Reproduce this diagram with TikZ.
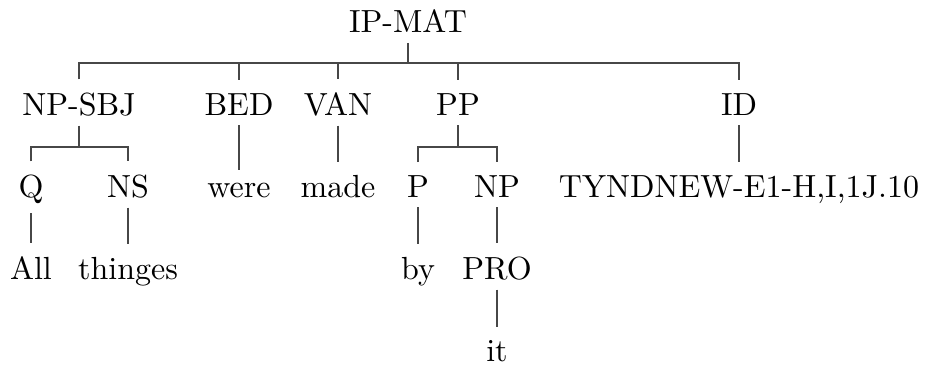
\documentclass[tikz,border=0pt]{standalone}
\usepackage{tikz}
\begin{document}
\begin{tikzpicture}[x=1pt,y=-1pt,
  lbl/.style={inner sep=0pt, outer sep=0pt, anchor=base, font=\fontsize{10}{12}\selectfont, scale=3.2, transform shape},
  edge/.style={draw=black!72, line width=1.5pt, line join=miter, line cap=butt}]
\useasboundingbox (0,0) rectangle (928,369);
% level 0
\node[lbl] (ipmat) at (408,33) {IP-MAT};
% level 1
\node[lbl] (npsbj) at (79,115) {NP-SBJ};
\node[lbl] (bed) at (239,115) {BED};
\node[lbl] (van) at (338,115) {VAN};
\node[lbl] (pp) at (458,115) {PP};
\node[lbl] (id) at (739,115) {ID};
% level 2
\node[lbl] (q) at (31,197) {Q};
\node[lbl] (ns) at (128,197) {NS};
\node[lbl] (were) at (239,197) {were};
\node[lbl] (made) at (338,197) {made};
\node[lbl] (p) at (418,197) {P};
\node[lbl] (np) at (497,197) {NP};
\node[lbl] (tynd) at (739,197) {TYNDNEW-E1-H,I,1J.10};
% level 3
\node[lbl] (all) at (31,279) {All};
\node[lbl] (thinges) at (128,279) {thinges};
\node[lbl] (by) at (418,279) {by};
\node[lbl] (pro) at (497,279) {PRO};
% level 4
\node[lbl] (it) at (497,361) {it};
% bar levels
\coordinate (bar0) at (0,63);
\coordinate (bar1) at (0,147);
% IP-MAT
\draw[edge] ([yshift=-10pt]ipmat.south) -- (ipmat.south |- bar0);
\draw[edge] ([yshift=13pt]npsbj.north) -- (npsbj.north |- bar0) -- (id.north |- bar0) -- ([yshift=13pt]id.north);
\draw[edge] (bed.north |- bar0) -- ([yshift=13pt]bed.north);
\draw[edge] (van.north |- bar0) -- ([yshift=13pt]van.north);
\draw[edge] (pp.north |- bar0) -- ([yshift=13pt]pp.north);
% NP-SBJ
\draw[edge] ([yshift=-10pt]npsbj.south) -- (npsbj.south |- bar1);
\draw[edge] ([yshift=13pt]q.north) -- (q.north |- bar1) -- (ns.north |- bar1) -- ([yshift=13pt]ns.north);
% BED, VAN, ID
\draw[edge] ([yshift=-10pt]bed.south) -- ([yshift=13pt]were.north);
\draw[edge] ([yshift=-10pt]van.south) -- ([yshift=13pt]made.north);
\draw[edge] ([yshift=-10pt]id.south) -- ([yshift=13pt]tynd.north);
% PP
\draw[edge] ([yshift=-10pt]pp.south) -- (pp.south |- bar1);
\draw[edge] ([yshift=13pt]p.north) -- (p.north |- bar1) -- (np.north |- bar1) -- ([yshift=13pt]np.north);
% level 2 -> 3
\draw[edge] ([yshift=-10pt]q.south) -- ([yshift=13pt]all.north);
\draw[edge] ([yshift=-10pt]ns.south) -- ([yshift=13pt]thinges.north);
\draw[edge] ([yshift=-10pt]p.south) -- ([yshift=13pt]by.north);
\draw[edge] ([yshift=-10pt]np.south) -- ([yshift=13pt]pro.north);
% level 3 -> 4
\draw[edge] ([yshift=-10pt]pro.south) -- ([yshift=13pt]it.north);
\end{tikzpicture}
\end{document}
